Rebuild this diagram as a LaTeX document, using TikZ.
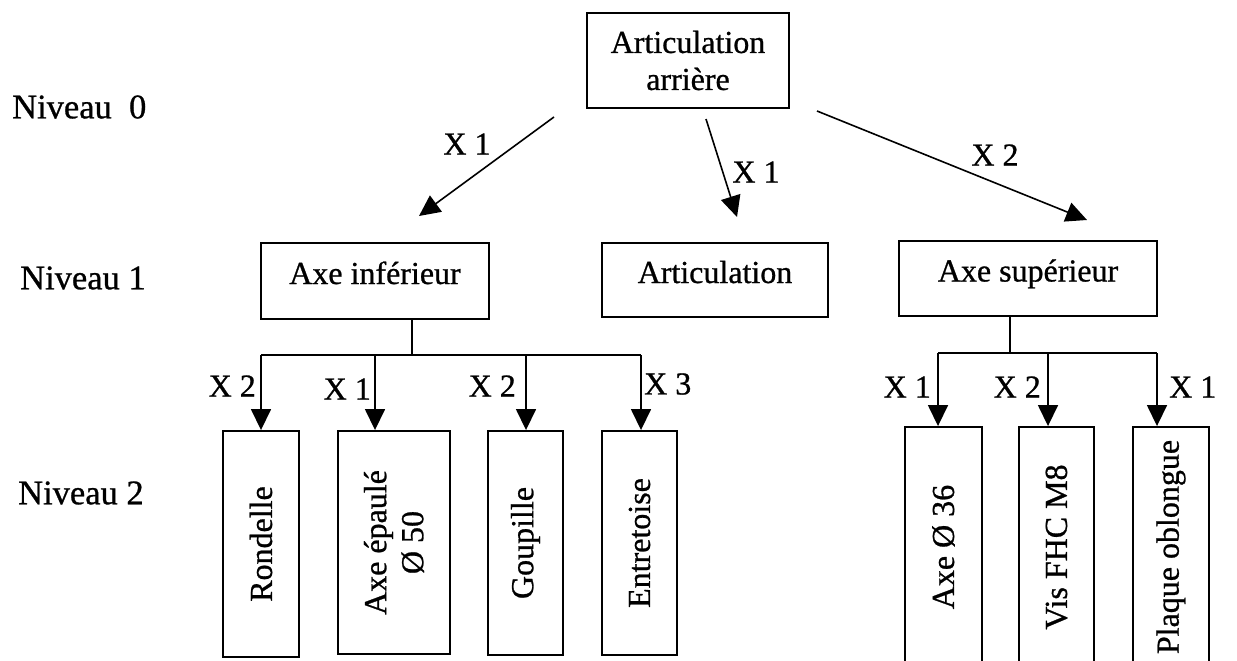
\documentclass[tikz,border=0pt]{standalone}
\usepackage{fontspec}
\setmainfont{Liberation Serif}[FakeBold=0.8]
\usetikzlibrary{arrows.meta}
\begin{document}
\begin{tikzpicture}[x=1pt,y=-1pt,
  box/.style={draw, line width=1.9pt, inner sep=0pt, align=center, font=\fontsize{32}{37}\selectfont},
  lonebox/.style={box, text height=28pt, text depth=22pt},
  vbox/.style={box, rotate=90},
  lvl/.style={font=\fontsize{34.5}{40}\selectfont, inner sep=0pt, anchor=west},
  mult/.style={font=\fontsize{32}{37}\selectfont, inner sep=0pt},
  conn/.style={line width=1.6pt},
  arr/.style={line width=1.6pt, -{Triangle[length=21pt,width=20pt]}},
]
\useasboundingbox (0,0) rectangle (1237,661);
\clip (0,0) rectangle (1237,661);

% level labels
\node[lvl] (n0) at (12,107) {Niveau\ \ 0};
\node[lvl] (n1) at (20,278) {Niveau 1};
\node[lvl] (n2) at (18,493) {Niveau 2};

% level 0
\node[box, minimum width=202pt, minimum height=95pt] (top) at (688,60.5) {Articulation\\arrière};

% level 1
\node[lonebox, minimum width=228pt, minimum height=76pt] (ainf) at (375,281) {Axe inférieur};
\node[lonebox, minimum width=226pt, minimum height=74pt] (art) at (715,280) {Articulation};
\node[lonebox, minimum width=258pt, minimum height=75pt] (asup) at (1028,278.5) {Axe supérieur};

% arrows level 0 -> 1
\coordinate (s1) at (554,117);
\coordinate (t1) at (419,216);
\coordinate (s2) at (706,119);
\coordinate (t2) at (737,217);
\coordinate (s3) at (817,111);
\coordinate (t3) at (1087,220);
\draw[arr] (s1) -- (t1);
\draw[arr] (s2) -- (t2);
\draw[arr] (s3) -- (t3);
\node[mult] (m1) at (467,144) {X 1};
\node[mult] (m2) at (756,172) {X 1};
\node[mult] (m3) at (995,155) {X 2};

% level 2 boxes (left)
\node[vbox, minimum width=226pt, minimum height=76pt] (ron) at (261,544) {Rondelle};
\node[vbox, minimum width=223pt, minimum height=112pt] (axep) at (394,542.5) {Axe épaulé\\Ø 50};
\node[vbox, minimum width=224pt, minimum height=75pt] (gou) at (525.5,543) {Goupille};
\node[vbox, minimum width=224pt, minimum height=75pt] (ent) at (639.5,543) {Entretoise};

% level 2 boxes (right)
\node[vbox, minimum width=240pt, minimum height=77pt] (ax36) at (943.5,547) {Axe Ø 36};
\node[vbox, minimum width=240pt, minimum height=75pt] (vis) at (1056.5,547) {Vis FHC M8};
\node[vbox, minimum width=240pt, minimum height=76pt] (pla) at (1171,547) {Plaque oblongue};

% left tree
\coordinate (lj) at (412,355);
\coordinate (lb1) at (261,355);
\coordinate (lb2) at (375,355);
\coordinate (lb3) at (526,355);
\coordinate (lb4) at (641,355);
\draw[conn] (ainf.south -| lj) -- (lj);
\draw[conn] (lb1) -- (lb4);
\draw[arr] (lb1) -- (lb1 |- ron.east);
\draw[arr] (lb2) -- (lb2 |- axep.east);
\draw[arr] (lb3) -- (lb3 |- gou.east);
\draw[arr] (lb4) -- (lb4 |- ent.east);
\node[mult, anchor=east] (l1) at (256,386) {X 2};
\node[mult, anchor=east] (l2) at (371,389) {X 1};
\node[mult, anchor=east] (l3) at (516,386) {X 2};
\node[mult, anchor=west] (l4) at (644,384) {X 3};

% right tree
\coordinate (rj) at (1010,353);
\coordinate (rb1) at (938,353);
\coordinate (rb2) at (1048,353);
\coordinate (rb3) at (1157,353);
\draw[conn] (asup.south -| rj) -- (rj);
\draw[conn] (rb1) -- (rb3);
\draw[arr] (rb1) -- (rb1 |- ax36.east);
\draw[arr] (rb2) -- (rb2 |- vis.east);
\draw[arr] (rb3) -- (rb3 |- pla.east);
\node[mult, anchor=east] (r1) at (931,387) {X 1};
\node[mult, anchor=east] (r2) at (1041,387) {X 2};
\node[mult, anchor=west] (r3) at (1169,387) {X 1};
\end{tikzpicture}
\end{document}
